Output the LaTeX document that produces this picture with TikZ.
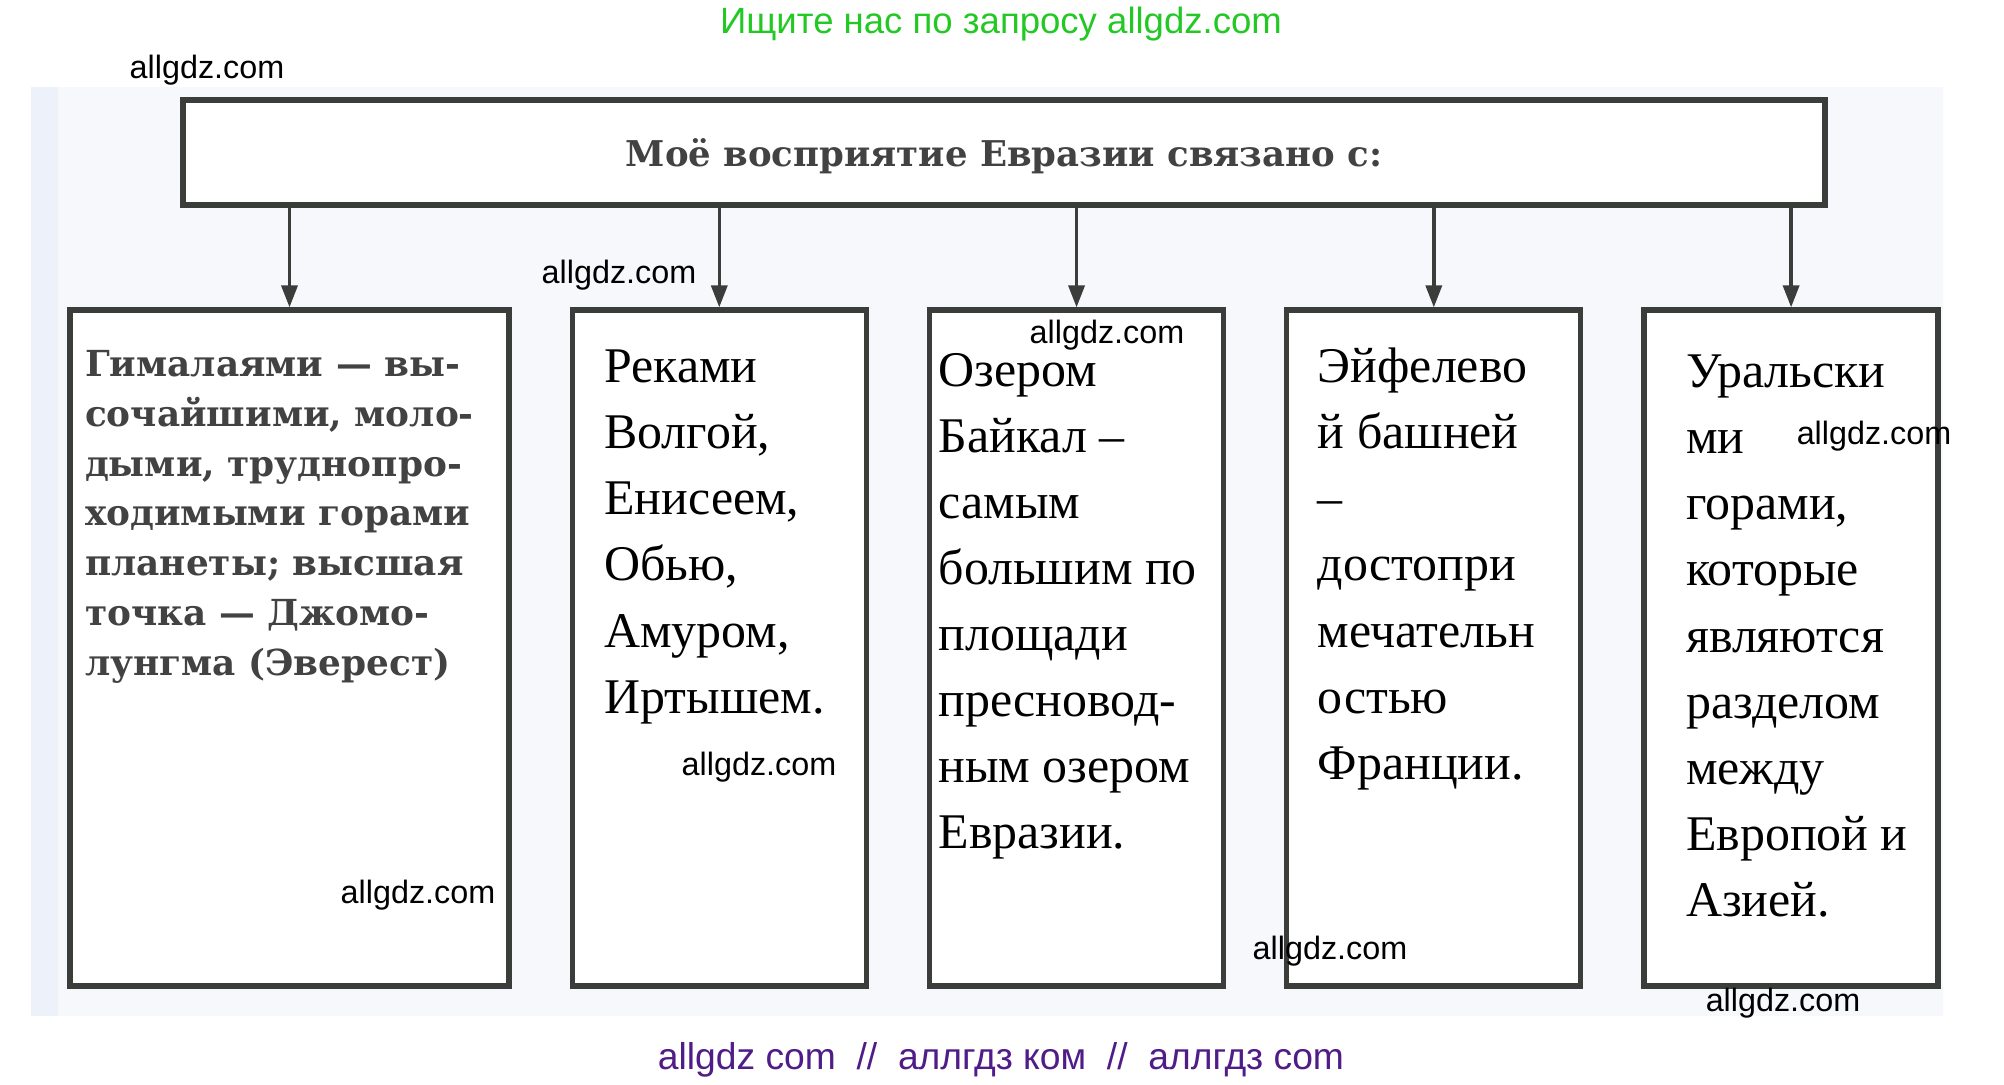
\documentclass[tikz,border=0pt]{standalone}
\usepackage{fontspec}
\setmainfont{Liberation Serif}
\newfontfamily\bookfont{DejaVu Serif}
\newfontfamily\wmfont{Liberation Sans}
\usetikzlibrary{positioning, arrows.meta}
\definecolor{frame}{RGB}{58,61,58}
\definecolor{scan}{RGB}{246,248,252}
\definecolor{scanedge}{RGB}{237,242,250}
\definecolor{adgreen}{RGB}{36,200,36}
\definecolor{adpurple}{RGB}{80,28,136}
\definecolor{print}{RGB}{66,66,66}

\begin{document}
\begin{tikzpicture}[x=1cm,y=1cm,
    box/.style={draw=frame,line width=1.5pt,fill=white,inner sep=0pt,minimum width=2.94cm,minimum height=6.76cm},
    txt/.style={inner sep=0pt,align=left,font=\fontsize{14.2}{18.8}\selectfont},
    book/.style={inner sep=0pt,align=left,text=print,font=\bookfont\bfseries\fontsize{10.2}{14.2}\selectfont},
    wm/.style={inner sep=0pt,font=\wmfont\fontsize{9.2}{11}\selectfont},
    arr/.style={color=frame,line width=1pt,-{Triangle[length=0.22cm,width=0.16cm]}}]
      \useasboundingbox (0,0) rectangle (20.04,-10.84);
      \fill[scan] (0.31,-0.87) rectangle (19.43,-10.16);
      \fill[scanedge] (0.31,-0.87) rectangle (0.58,-10.16);

      \node[box,minimum width=16.42cm,minimum height=1.05cm,text=print,text height=0.30cm,text depth=0.03cm,font=\bookfont\bfseries\fontsize{10.1}{12}\selectfont] (top) at (10.04,-1.525) {Моё восприятие Евразии связано с:};
      \node[box,minimum width=4.39cm] (b_1) at (2.895,-6.48) {};
      \node[box] (b_2) [right=0.58cm of b_1] {};
      \node[box] (b_3) [right=0.58cm of b_2] {};
      \node[box] (b_4) [right=0.58cm of b_3] {};
      \node[box] (b_5) [right=0.58cm of b_4] {};

      \path[arr] (top.south -| b_1) edge (b_1)
                 (top.south -| b_2) edge (b_2)
                 (top.south -| b_3) edge (b_3)
                 (top.south -| b_4) edge (b_4)
                 (top.south -| b_5) edge (b_5);

      \node[book] (t_1) [below right=0.42cm and 0.17cm of b_1.north west] {Гималаями — вы-\\сочайшими, моло-\\дыми, труднопро-\\ходимыми горами\\планеты; высшая\\точка — Джомо-\\лунгма (Эверест)};
      \node[txt] (t_2) [below right=0.42cm and 0.34cm of b_2.north west] {Реками\\Волгой,\\Енисеем,\\Обью,\\Амуром,\\Иртышем.};
      \node[txt] (t_3) [below right=0.45cm and 0.11cm of b_3.north west] {Озером\\Байкал –\\самым\\большим по\\площади\\пресновод-\\ным озером\\Евразии.};
      \node[txt] (t_4) [below right=0.40cm and 0.33cm of b_4.north west] {Эйфелево\\й башней\\–\\достопри\\мечательн\\остью\\Франции.};
      \node[txt] (t_5) [below right=0.47cm and 0.44cm of b_5.north west] {Уральски\\ми\\горами,\\которые\\являются\\разделом\\между\\Европой и\\Азией.};

      \node[wm,text=adgreen,font=\wmfont\fontsize{10.4}{12}\selectfont] (ad_top) at (10.01,-0.24) {Ищите нас по запросу allgdz.com};
      \node[wm,text=adpurple,font=\wmfont\fontsize{10.6}{12}\selectfont] (ad_bot) at (10.01,-10.60) {allgdz com\ \ //\ \ аллгдз ком\ \ //\ \ аллгдз com};
      \node[wm] (w_1) at (2.07,-0.70) {allgdz.com};
      \node[wm] (w_2) at (6.19,-2.75) {allgdz.com};
      \node[wm] (w_3) at (11.07,-3.35) {allgdz.com};
      \node[wm] (w_4) at (18.74,-4.36) {allgdz.com};
      \node[wm] (w_5) at (7.59,-7.67) {allgdz.com};
      \node[wm] (w_6) at (4.18,-8.95) {allgdz.com};
      \node[wm] (w_7) at (13.30,-9.51) {allgdz.com};
      \node[wm] (w_8) at (17.83,-10.03) {allgdz.com};
    \end{tikzpicture}
\end{document}
